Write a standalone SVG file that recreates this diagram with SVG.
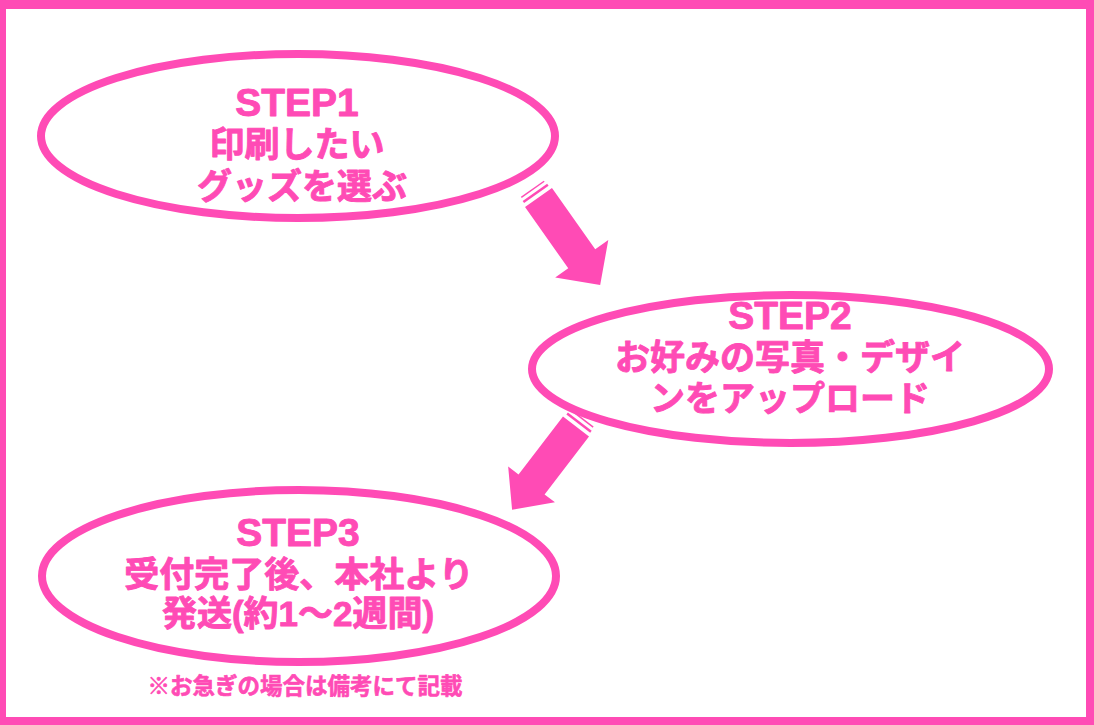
<svg xmlns="http://www.w3.org/2000/svg" width="1094" height="725" viewBox="0 0 1094 725">
<style>
.frame{fill:#FF4BB5;fill-rule:evenodd}
.node ellipse{fill:#FFFFFF;stroke:#FF4BB5;stroke-width:8}
.t{font-family:"Liberation Sans","Noto Sans CJK JP",sans-serif;font-weight:bold;fill:#FF4BB5;stroke:#FF4BB5;stroke-width:0.9;stroke-linejoin:round;text-anchor:middle}
.step{font-size:39px}
.jp{font-size:35px}
.note{font-size:22.5px;stroke-width:0.6}
.arrow polygon{fill:#FF4BB5}
.arrow line{stroke:#FF4BB5}
</style>
<rect width="1094" height="725" fill="#FFFFFF"/>
<path class="frame" d="M0 0H1094V725H0Z M6 9V717H1086V9Z"/>
<g id="connectors" class="arrow">
<g transform="translate(538.5,197.5) rotate(54.8)">
<polygon points="0,-16.5 75,-16.5 75,-32.5 107,0 75,32.5 75,16.5 0,16.5"/>
<line x1="-5" y1="-15" x2="-5" y2="15" stroke-width="2.5"/>
<line x1="-10" y1="-14" x2="-10" y2="14" stroke-width="1.5"/>
</g>
<g transform="translate(576,426.5) rotate(127.5)">
<polygon points="0,-16.4 73,-16.4 73,-29.5 105,0 73,29.5 73,16.4 0,16.4"/>
<line x1="-5" y1="-15" x2="-5" y2="15" stroke-width="2.5"/>
<line x1="-10" y1="-14" x2="-10" y2="14" stroke-width="1.5"/>
</g>
</g>
<g id="step1" class="node">
<ellipse cx="298" cy="136" rx="257" ry="82"/>
<text class="t step" x="297" y="116">STEP1</text>
<text class="t jp" x="297" y="156.5">印刷したい</text>
<text class="t jp" x="302" y="199">グッズを選ぶ</text>
</g>
<g id="step2" class="node">
<ellipse cx="790.5" cy="369" rx="258.5" ry="74"/>
<text class="t step" x="790" y="329">STEP2</text>
<text class="t jp" x="790" y="370">お好みの写真・デザイ</text>
<text class="t jp" x="790" y="411">ンをアップロード</text>
</g>
<g id="step3" class="node">
<ellipse cx="299" cy="576" rx="257" ry="86"/>
<text class="t step" x="298" y="546">STEP3</text>
<text class="t jp" x="299" y="587">受付完了後、本社より</text>
<text class="t jp" x="298" y="626">発送(約1〜2週間)</text>
</g>
<g id="note">
<text class="t note" x="305" y="694">※お急ぎの場合は備考にて記載</text>
</g>
</svg>
